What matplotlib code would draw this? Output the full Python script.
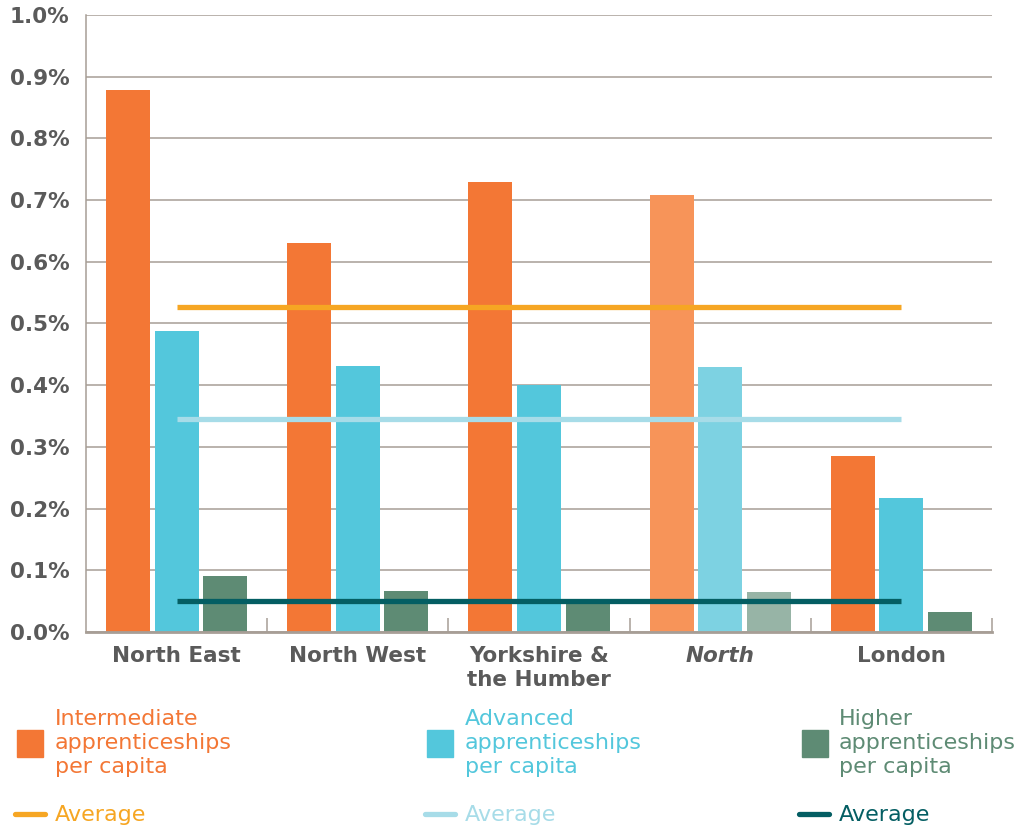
import numpy as np
import matplotlib.pyplot as plt
from matplotlib.patches import Rectangle
from matplotlib.lines import Line2D

plt.rcParams['font.family'] = ['DejaVu Sans']

regions = ['North East', 'North West', 'Yorkshire &\nthe Humber', 'North', 'London']
intermediate = [0.878, 0.630, 0.729, 0.708, 0.285]
advanced = [0.488, 0.431, 0.400, 0.430, 0.217]
higher = [0.091, 0.066, 0.048, 0.065, 0.032]
avg_intermediate = 0.527
avg_advanced = 0.345
avg_higher = 0.050

# colours: normal regions, then the lighter "North" aggregate
c_int, c_int_n = '#F37735', '#F79459'
c_adv, c_adv_n = '#53C7DC', '#7DD2E2'
c_hig, c_hig_n = '#5E8B74', '#97B4A6'
c_avg_int, c_avg_adv, c_avg_hig = '#F6A623', '#A7DCE8', '#045E63'
grid_c = '#A79E96'
txt_c = '#5A5A5A'

fig = plt.figure(figsize=(10.35, 8.32), dpi=100)
ax = fig.add_axes([0.0831, 0.2404, 0.8754, 0.7416])

x = np.arange(len(regions))
w = 0.243
off = 0.268
north = [r == 'North' for r in regions]

ax.bar(x - off, intermediate, w, color=[c_int_n if n else c_int for n in north], zorder=2)
ax.bar(x, advanced, w, color=[c_adv_n if n else c_adv for n in north], zorder=2)
ax.bar(x + off, higher, w, color=[c_hig_n if n else c_hig for n in north], zorder=2)

for val, col in [(avg_intermediate, c_avg_int), (avg_advanced, c_avg_adv), (avg_higher, c_avg_hig)]:
    ax.hlines(val, x[0], x[-1], color=col, lw=3.8, zorder=3)

ax.set_xlim(-0.5, len(regions) - 0.5)
ax.set_ylim(0, 1.0)
ax.set_yticks(np.arange(0, 1.01, 0.1))
ax.set_yticklabels([f'{v:.1f}%' for v in np.arange(0, 1.01, 0.1)],
                   fontsize=15.5, fontweight='bold', color=txt_c)
ax.yaxis.grid(True, color=grid_c, lw=1.1, zorder=0)
ax.tick_params(axis='y', length=0, pad=12)

ax.set_xticks(x)
ax.set_xticklabels(regions, fontsize=15.5, fontweight='bold', color=txt_c, linespacing=1.25)
for lbl, n in zip(ax.get_xticklabels(), north):
    if n:
        lbl.set_style('italic')
ax.tick_params(axis='x', length=0, pad=10)
ax.set_xticks(np.arange(0.5, len(regions), 1.0), minor=True)
ax.tick_params(axis='x', which='minor', direction='in', length=10, width=1.1, color=grid_c)

for s in ['top', 'right']:
    ax.spines[s].set_visible(False)
ax.spines['left'].set_color(grid_c)
ax.spines['left'].set_linewidth(1.1)
ax.spines['bottom'].set_color(grid_c)
ax.spines['bottom'].set_linewidth(2)

# legend built by hand: three patches with labels, then three average lines
W, H = 1035, 832
patch_items = [
    (17, 55, c_int, 'Intermediate\napprenticeships\nper capita'),
    (427, 465, c_adv, 'Advanced\napprenticeships\nper capita'),
    (802, 839, c_hig, 'Higher\napprenticeships\nper capita'),
]
for px, tx, col, label in patch_items:
    fig.add_artist(Rectangle((px / W, 1 - 757 / H), 26 / W, 27 / H,
                             transform=fig.transFigure, color=col))
    fig.text(tx / W, 1 - 743 / H, label, color=col, fontsize=16,
             va='center', ha='left', linespacing=1.28)

line_items = [(15, 55, c_avg_int), (425, 465, c_avg_adv), (799, 839, c_avg_hig)]
for lx, tx, col in line_items:
    fig.add_artist(Line2D([lx / W, (lx + 30) / W], [1 - 814 / H] * 2,
                          transform=fig.transFigure, color=col, lw=3.8,
                          solid_capstyle='round'))
    fig.text(tx / W, 1 - 815 / H, 'Average', color=col, fontsize=16,
             va='center', ha='left')

fig.savefig('out.png', dpi=100)
